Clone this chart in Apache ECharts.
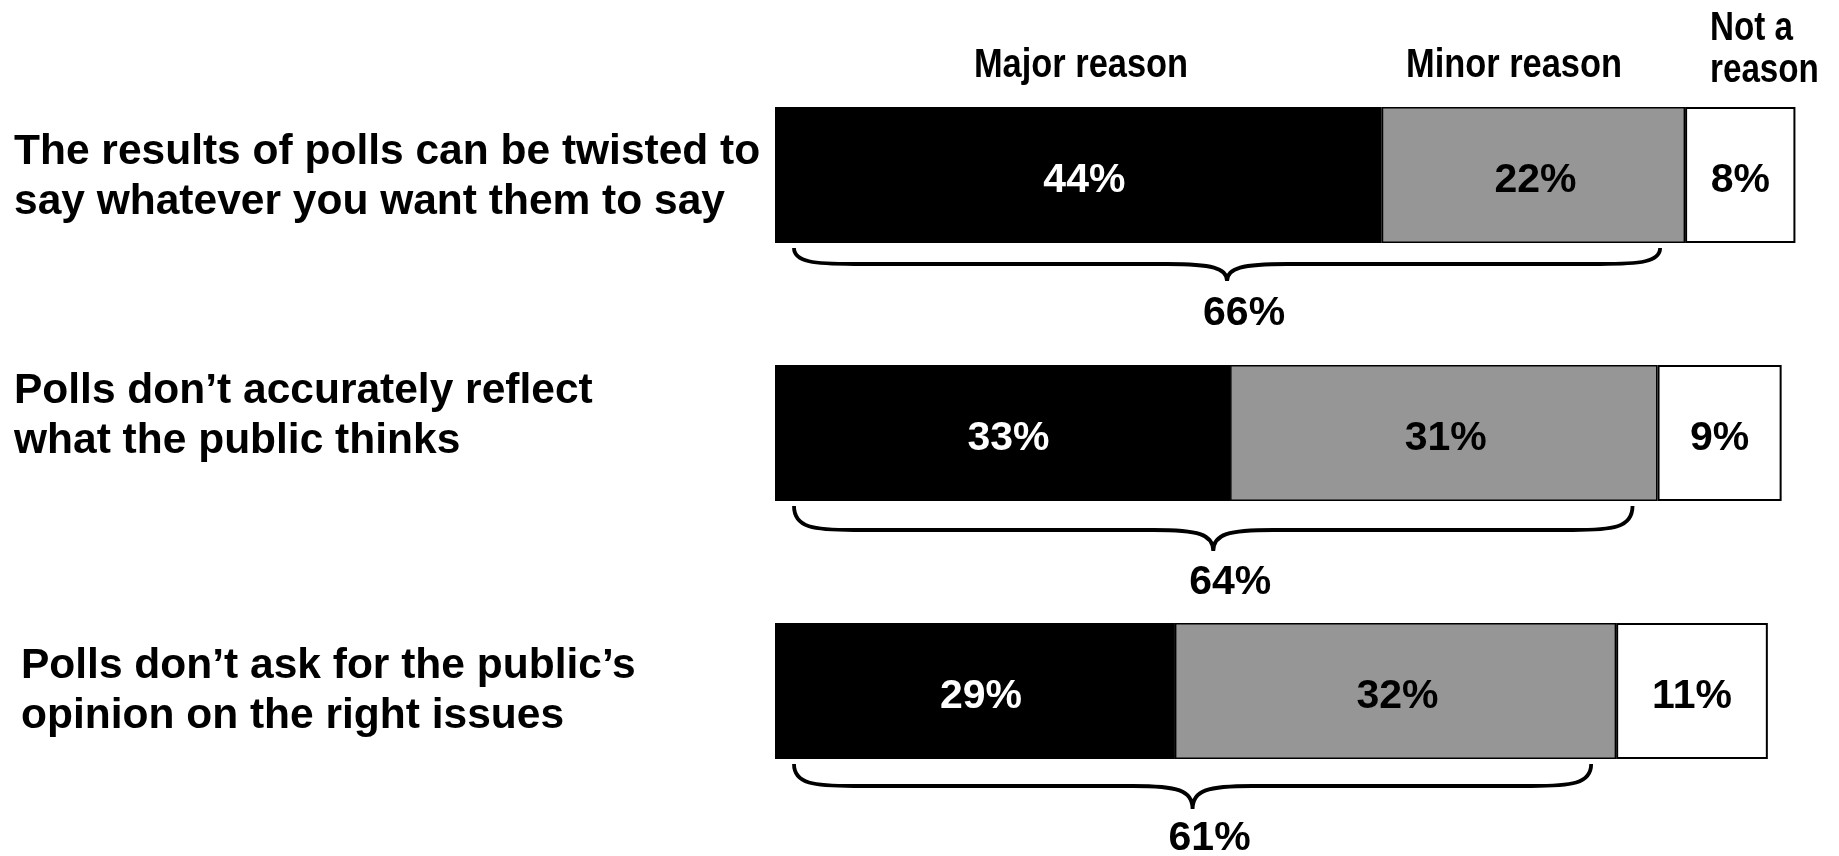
<!DOCTYPE html>
<html>
<head>
<meta charset="utf-8">
<script src="https://cdn.jsdelivr.net/npm/echarts@6/dist/echarts.min.js"></script>
<style>
  html, body { margin: 0; padding: 0; background: #fff; }
  #chart { width: 1839px; height: 856px; }
</style>
</head>
<body>
<div id="chart"></div>
<script>
// ---- Data ----
const categories = [
  'The results of polls can be twisted to\nsay whatever you want them to say',
  'Polls don\u2019t accurately reflect\nwhat the public thinks',
  'Polls don\u2019t ask for the public\u2019s\nopinion on the right issues'
];
const seriesNames = ['Major reason', 'Minor reason', 'Not a reason'];
const headerLabels = ['Major reason', 'Minor reason', 'Not a\nreason'];
const majorReason = [44, 33, 29];
const minorReason = [22, 31, 32];
const notAReason = [8, 9, 11];
const totalReason = [66, 64, 61];

// ---- Styling (kept apart from data) ----
const FONT = '"Liberation Sans", Arial, sans-serif';
const labelLeft = 14;
const labelShift = [[0, 2], [0, -16.5], [7, 0.5]];
// brace geometry per row: [line offset, tip offset, total label offset] from bar centre (px)
const braceGeom = [[89, 106, 139], [97, 118, 150], [95, 118, 148]];

const chart = echarts.init(document.getElementById('chart'), null, { renderer: 'canvas' });

const barLabel = (color, dx) => ({
  show: true,
  position: 'inside',
  offset: [dx, 6],
  formatter: '{c}%',
  color: color,
  fontSize: 41,
  fontWeight: 'bold',
  fontFamily: FONT
});

const option = {
  backgroundColor: '#ffffff',
  animation: false,
  grid: { left: 775, right: 16, top: 46, bottom: 36, containLabel: false, outerBoundsMode: 'none' },
  xAxis: {
    type: 'value', min: 0, max: 76, show: false
  },
  yAxis: {
    type: 'category',
    inverse: true,
    data: categories,
    axisLine: { show: false },
    axisTick: { show: false },
    splitLine: { show: false },
    axisLabel: { show: false }
  },
  series: [
    {
      name: seriesNames[0], type: 'bar', stack: 'all', barWidth: 136,
      data: majorReason,
      itemStyle: { color: '#000000', borderColor: '#000', borderWidth: 1.5 },
      label: barLabel('#ffffff', 6)
    },
    {
      name: seriesNames[1], type: 'bar', stack: 'all', barWidth: 136,
      data: minorReason,
      itemStyle: { color: '#969696', borderColor: '#000', borderWidth: 1.5 },
      label: barLabel('#000000', 2)
    },
    {
      name: seriesNames[2], type: 'bar', stack: 'all', barWidth: 136,
      data: notAReason,
      itemStyle: { color: '#ffffff', borderColor: '#000', borderWidth: 2 },
      label: barLabel('#000000', 0)
    },
    {
      name: 'Total', type: 'custom',
      data: totalReason.map((t, i) => [t, i]),
      encode: { x: 0, y: 1 },
      silent: true,
      renderItem: function (params, api) {
        const idx = api.value(1);
        const total = api.value(0);
        const p0 = api.coord([0, idx]);
        const p1 = api.coord([total, idx]);
        const cy = p0[1];
        const g = braceGeom[idx];
        const x0 = p0[0] + 19;
        const x1 = p1[0] - 25;
        const xm = (x0 + x1) / 2;
        const yTop = cy + 73;
        const yLine = cy + g[0];
        const yTip = cy + g[1];
        const path =
          'M' + x0 + ' ' + yTop +
          ' C' + x0 + ' ' + (yLine - 2) + ' ' + (x0 + 20) + ' ' + yLine + ' ' + (x0 + 60) + ' ' + yLine +
          ' L' + (xm - 60) + ' ' + yLine +
          ' C' + (xm - 15) + ' ' + yLine + ' ' + xm + ' ' + (yLine + 4) + ' ' + xm + ' ' + yTip +
          ' C' + xm + ' ' + (yLine + 4) + ' ' + (xm + 15) + ' ' + yLine + ' ' + (xm + 60) + ' ' + yLine +
          ' L' + (x1 - 60) + ' ' + yLine +
          ' C' + (x1 - 20) + ' ' + yLine + ' ' + x1 + ' ' + (yLine - 2) + ' ' + x1 + ' ' + yTop;
        const sh = labelShift[idx];
        return {
          type: 'group',
          children: [
            {
              type: 'path',
              shape: { pathData: path },
              style: { fill: 'none', stroke: '#000', lineWidth: 3.8 }
            },
            {
              type: 'text',
              style: {
                text: total + '%',
                x: xm + 17, y: cy + g[2],
                align: 'center', verticalAlign: 'middle',
                fill: '#000',
                font: 'bold 41px ' + FONT
              }
            },
            {
              type: 'text',
              style: {
                text: categories[idx],
                x: labelLeft + sh[0], y: cy + sh[1],
                align: 'left', verticalAlign: 'middle',
                fill: '#000',
                font: 'bold 42.5px ' + FONT,
                lineHeight: 50
              }
            }
          ]
        };
      }
    }
  ],
  graphic: [
    {
      type: 'text', x: 1081, y: 66, scaleX: 0.86,
      style: { text: headerLabels[0], align: 'center', verticalAlign: 'middle', fill: '#000', font: 'bold 40px ' + FONT }
    },
    {
      type: 'text', x: 1514, y: 66, scaleX: 0.86,
      style: { text: headerLabels[1], align: 'center', verticalAlign: 'middle', fill: '#000', font: 'bold 40px ' + FONT }
    },
    {
      type: 'text', x: 1710, y: 50, scaleX: 0.83,
      style: { text: headerLabels[2], align: 'left', verticalAlign: 'middle', fill: '#000', font: 'bold 40px ' + FONT, lineHeight: 42 }
    }
  ]
};

chart.setOption(option);
</script>
</body>
</html>
